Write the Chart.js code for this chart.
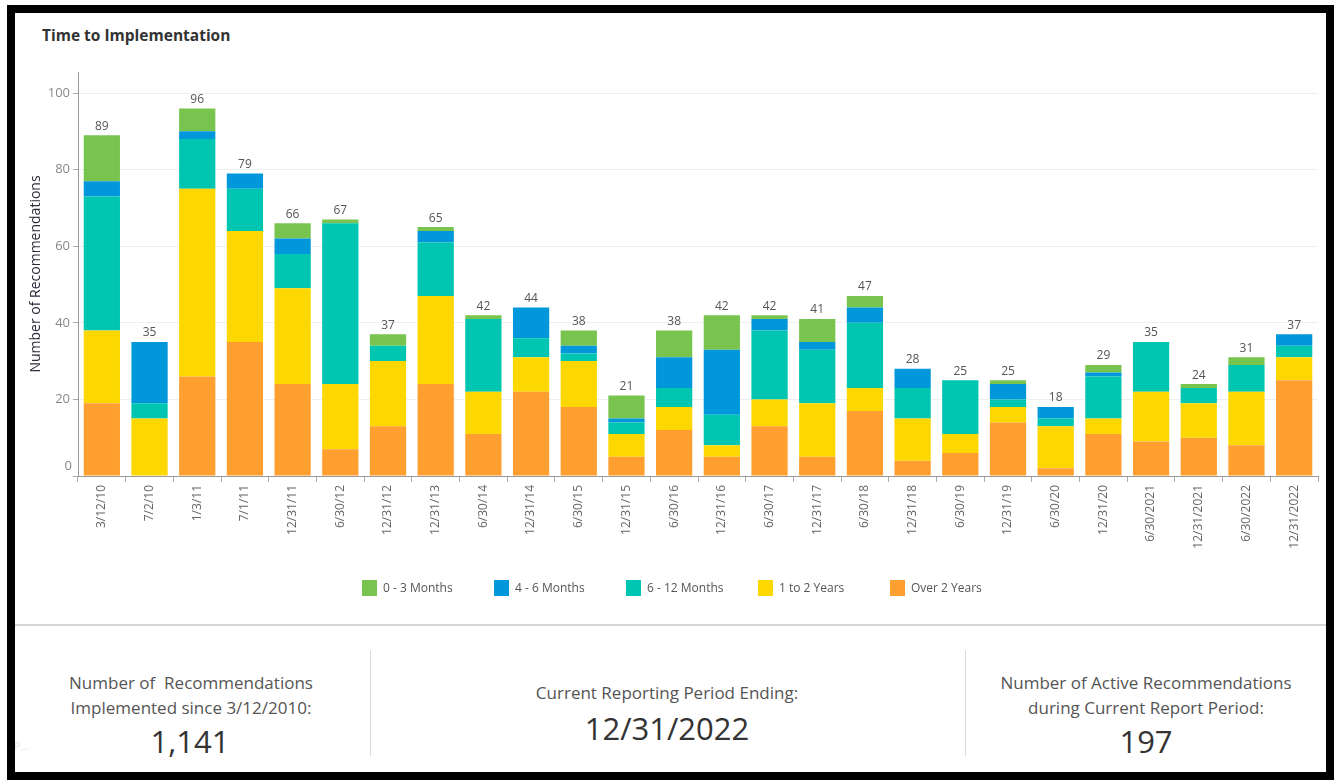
<!DOCTYPE html>
<html>
<head>
<meta charset="utf-8">
<script src="https://cdn.jsdelivr.net/npm/chart.js@4.4.1/dist/chart.umd.min.js"></script>
<style>
  html, body { margin: 0; padding: 0; background: #fff; }
  body { width: 1336px; height: 780px; position: relative; overflow: hidden; font-family: "Open Sans", Lato, sans-serif; }
  #frame { position: absolute; left: 7px; top: 5px; width: 1311px; height: 759px; border: 8px solid #000; box-sizing: content-box; z-index: 5; pointer-events: none; }
  #chartbox { position: absolute; left: 0; top: 0; width: 1336px; height: 620px; }
  #title { position: absolute; left: 42px; top: 24px; font-size: 15.5px; font-weight: 700; color: #333; }
  #legend { position: absolute; left: 0; top: 580px; width: 1336px; height: 20px; }
  .li { position: absolute; top: 0; height: 16px; font-size: 12px; color: #555; line-height: 16px; white-space: nowrap; }
  .li span.sw { position: absolute; left: 0; top: 0; width: 15px; height: 16px; }
  .li span.tx { position: absolute; left: 21px; top: 0; }
  #sep { position: absolute; left: 15px; top: 624px; width: 1311px; height: 2px; background: #d6d6d6; }
  .vdiv { position: absolute; top: 650px; width: 1px; height: 106px; background: #d9d9d9; }
  .t { position: absolute; transform: translate(-50%, -50%); white-space: nowrap; text-align: center; }
  .lab { font-size: 17px; color: #555; }
  .num { font-size: 31px; color: #333; }
  #ghost { position: absolute; left: 14px; top: 738px; font-size: 11px; color: #e6e6e6; }
</style>
</head>
<body>
<div id="frame"></div>
<div id="title">Time to Implementation</div>
<div id="chartbox"><canvas id="c" width="1336" height="620"></canvas></div>
<div id="legend"></div>
<div id="sep"></div>
<div class="vdiv" style="left:370px"></div>
<div class="vdiv" style="left:965px"></div>

<div class="t lab" style="left:191px; top:682px">Number of&nbsp; Recommendations</div>
<div class="t lab" style="left:191px; top:707px">Implemented since 3/12/2010:</div>
<div class="t num" style="left:190px; top:741px">1,141</div>

<div class="t lab" style="left:667px; top:692px">Current Reporting Period Ending:</div>
<div class="t num" style="left:667px; top:728px">12/31/2022</div>

<div class="t lab" style="left:1146px; top:682px">Number of Active Recommendations</div>
<div class="t lab" style="left:1146px; top:707px">during Current Report Period:</div>
<div class="t num" style="left:1146px; top:741px">197</div>
<div id="ghost">P...</div>

<script>
// ---- Data ----
const categories = ['3/12/10','7/2/10','1/3/11','7/1/11','12/31/11','6/30/12','12/31/12','12/31/13','6/30/14','12/31/14','6/30/15','12/31/15','6/30/16','12/31/16','6/30/17','12/31/17','6/30/18','12/31/18','6/30/19','12/31/19','6/30/20','12/31/20','6/30/2021','12/31/2021','6/30/2022','12/31/2022'];

const over2Years   = [19, 0,26,35,24, 7,13,24,11,22,18, 5,12, 5,13, 5,17, 4, 6,14, 2,11, 9,10, 8,25];
const oneTo2Years  = [19,15,49,29,25,17,17,23,11, 9,12, 6, 6, 3, 7,14, 6,11, 5, 4,11, 4,13, 9,14, 6];
const sixTo12Months= [35, 4,13,11, 9,42, 4,14,19, 5, 2, 3, 5, 8,18,14,17, 8,14, 2, 2,11,13, 4, 7, 3];
const fourTo6Months= [ 4,16, 2, 4, 4, 0, 0, 3, 0, 8, 2, 1, 8,17, 3, 2, 4, 5, 0, 4, 3, 1, 0, 0, 0, 3];
const zeroTo3Months= [12, 0, 6, 0, 4, 1, 3, 1, 1, 0, 4, 6, 7, 9, 1, 6, 3, 0, 0, 1, 0, 2, 0, 1, 2, 0];

const legendNames  = ['0 - 3 Months','4 - 6 Months','6 - 12 Months','1 to 2 Years','Over 2 Years'];
const legendColors = ['#79c44f','#0098da','#00c5b1','#fcd800','#ff9f30'];
const yTicks = [0,20,40,60,80,100];

// stacking order bottom -> top
const stackSeries = [
  {name: legendNames[4], data: over2Years,    color: legendColors[4]},
  {name: legendNames[3], data: oneTo2Years,   color: legendColors[3]},
  {name: legendNames[2], data: sixTo12Months, color: legendColors[2]},
  {name: legendNames[1], data: fourTo6Months, color: legendColors[1]},
  {name: legendNames[0], data: zeroTo3Months, color: legendColors[0]}
];
const totals = categories.map((_, i) => stackSeries.reduce((s, d) => s + d.data[i], 0));

// ---- HTML legend ----
const lg = document.getElementById('legend');
legendNames.forEach((n, i) => {
  const d = document.createElement('div');
  d.className = 'li';
  d.style.left = (362 + i * 132) + 'px';
  d.innerHTML = '<span class="sw" style="background:' + legendColors[i] + '"></span><span class="tx">' + n + '</span>';
  lg.appendChild(d);
});

const FONT = '"Open Sans", Lato, sans-serif';

const totalsPlugin = {
  id: 'totals',
  afterDatasetsDraw(chart) {
    const {ctx, scales: {x, y}} = chart;
    ctx.save();
    ctx.font = '12px ' + FONT;
    ctx.fillStyle = '#555';
    ctx.textAlign = 'center';
    ctx.textBaseline = 'bottom';
    totals.forEach((t, i) => {
      ctx.fillText(String(t), x.getPixelForValue(i), y.getPixelForValue(t) - 3);
    });
    // zero tick label, lifted above the baseline like the original
    ctx.font = '13px ' + FONT;
    ctx.fillStyle = '#888';
    ctx.textAlign = 'right';
    ctx.textBaseline = 'middle';
    ctx.fillText(String(yTicks[0]), x.left - 6, y.getPixelForValue(yTicks[0]) - 10);
    ctx.restore();
  }
};

new Chart(document.getElementById('c'), {
  type: 'bar',
  data: {
    labels: categories,
    datasets: stackSeries.map(s => ({
      label: s.name,
      data: s.data,
      backgroundColor: s.color,
      borderWidth: 0,
      barPercentage: 0.76,
      categoryPercentage: 1.0
    }))
  },
  options: {
    responsive: false,
    animation: false,
    layout: { padding: { left: 24, right: 18, top: 72, bottom: 0 } },
    plugins: { legend: { display: false }, tooltip: { enabled: false } },
    scales: {
      x: {
        stacked: true,
        afterFit: (s) => { s.height = 144; },
        grid: { drawOnChartArea: false, drawTicks: true, tickLength: 6, tickColor: '#aaa', offset: true },
        border: { color: '#999' },
        ticks: { minRotation: 90, maxRotation: 90, autoSkip: false, padding: 3, color: '#666', font: { family: FONT, size: 12 } }
      },
      y: {
        stacked: true,
        min: 0,
        max: 105.5,
        afterFit: (s) => { s.width = 54; },
        afterBuildTicks: (s) => { s.ticks = yTicks.map(v => ({value: v})); },
        grid: {
          color: (c) => (c.tick && c.tick.value === 0) ? 'rgba(0,0,0,0)' : '#efefef',
          tickColor: '#aaa', tickLength: 5
        },
        border: { color: '#999' },
        title: { display: true, text: 'Number of Recommendations', color: '#2b2b3a', font: { family: FONT, size: 14 }, padding: { top: 4, bottom: 4 } },
        ticks: {
          padding: 3, color: '#888', font: { family: FONT, size: 13 },
          callback: (v) => v === 0 ? '' : v
        }
      }
    }
  },
  plugins: [totalsPlugin]
});
</script>
</body>
</html>
